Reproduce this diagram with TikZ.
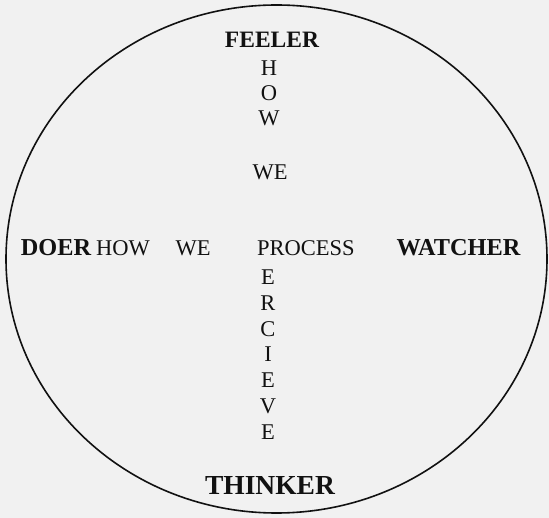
\documentclass[tikz,border=0pt]{standalone}
\usepackage{fontspec}
\setmainfont{Liberation Serif}
\definecolor{PaperGray}{HTML}{F1F1F1}
\definecolor{InkBlack}{HTML}{111111}

\begin{document}
\begin{tikzpicture}[x=1pt,y=-1pt, every node/.style={inner sep=0pt,text=InkBlack},
  word/.style={font=\fontsize{22.5}{23}\selectfont},
  pole/.style={font=\fontsize{24.3}{25}\selectfont\bfseries}]
  \fill[PaperGray] (0,0) rectangle (549,518);
  \draw[line width=1.6pt,InkBlack] (276.5,259) ellipse [x radius=270.5pt, y radius=254pt];
  % the four poles
  \node[pole,font=\fontsize{23.5}{24}\selectfont\bfseries] (feeler) at (272,40) {FEELER};
  \node[pole] (doer) at (56,248) {DOER};
  \node[pole] (watcher) at (458.5,248) {WATCHER};
  \node[pole,font=\fontsize{27.5}{28}\selectfont\bfseries] (thinker) at (270,485) {THINKER};
  % across
  \node[word] (howrow) at (123,248) {HOW};
  \node[word] (werow) at (193,248) {WE};
  \node[word,anchor=west] (process) at (257,248) {PROCESS};
  % down
  \foreach \l/\y [count=\i] in {H/68,O/93,W/118}
    \node[word] (how\i) at (269,\y) {\l};
  \node[word] (wecol) at (270,172) {WE};
  \foreach \l/\y [count=\i] in {E/277,R/303,C/329,I/354,E/380,V/406,E/432}
    \node[word] (perc\i) at (268,\y) {\l};
\end{tikzpicture}
\end{document}
